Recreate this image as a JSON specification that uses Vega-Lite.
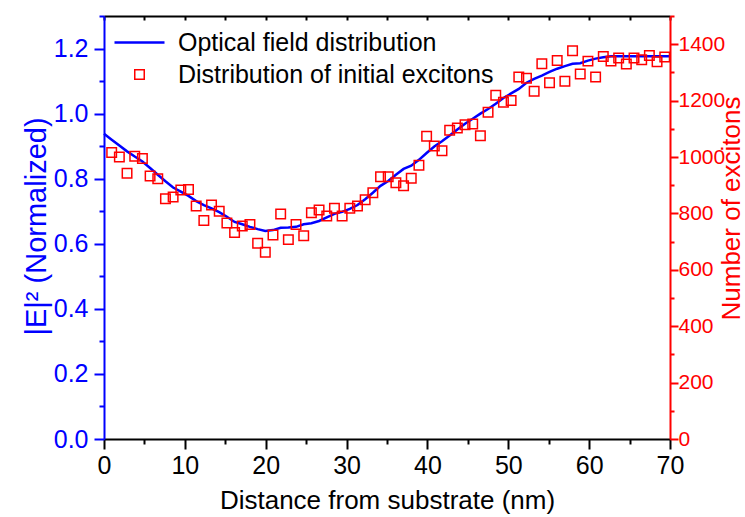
{
  "$schema": "https://vega.github.io/schema/vega-lite/v6.json",
  "width": 566,
  "height": 423,
  "autosize": "none",
  "padding": {"left": 104, "top": 16, "right": 75, "bottom": 78},
  "background": "white",
  "config": {
    "font": "Liberation Sans",
    "view": {"stroke": null},
    "axis": {"grid": false, "labelFont": "Liberation Sans", "titleFont": "Liberation Sans", "titleFontWeight": "normal", "labelOverlap": false, "labelFlush": false, "domainWidth": 2, "tickWidth": 2, "labelFontSize": 25, "titleFontSize": 28},
    "legend": {"labelFont": "Liberation Sans"}
  },
  "datasets": {
    "field": [
      {"x": 0, "E": 0.938}, {"x": 0.95, "E": 0.920}, {"x": 1.9, "E": 0.902}, {"x": 2.85, "E": 0.884}, {"x": 3.8, "E": 0.868},
      {"x": 4.75, "E": 0.853}, {"x": 5.7, "E": 0.833}, {"x": 6.65, "E": 0.812}, {"x": 7.6, "E": 0.792}, {"x": 8.55, "E": 0.773},
      {"x": 9.5, "E": 0.760}, {"x": 10.45, "E": 0.747}, {"x": 11.4, "E": 0.731}, {"x": 12.35, "E": 0.719}, {"x": 13.3, "E": 0.709},
      {"x": 14.25, "E": 0.697}, {"x": 15.2, "E": 0.683}, {"x": 16.15, "E": 0.667}, {"x": 17.1, "E": 0.660}, {"x": 18.05, "E": 0.652},
      {"x": 19, "E": 0.645}, {"x": 19.95, "E": 0.639}, {"x": 20.9, "E": 0.642}, {"x": 21.85, "E": 0.649}, {"x": 22.8, "E": 0.650},
      {"x": 23.75, "E": 0.652}, {"x": 24.7, "E": 0.660}, {"x": 25.65, "E": 0.663}, {"x": 26.6, "E": 0.670}, {"x": 27.55, "E": 0.681},
      {"x": 28.5, "E": 0.692}, {"x": 29.45, "E": 0.698}, {"x": 30.4, "E": 0.707}, {"x": 31.35, "E": 0.719}, {"x": 32.3, "E": 0.737},
      {"x": 33.25, "E": 0.757}, {"x": 34.2, "E": 0.778}, {"x": 35.15, "E": 0.793}, {"x": 36.1, "E": 0.812}, {"x": 37.05, "E": 0.830},
      {"x": 38, "E": 0.840}, {"x": 38.95, "E": 0.858}, {"x": 39.9, "E": 0.879}, {"x": 40.85, "E": 0.899}, {"x": 41.8, "E": 0.915},
      {"x": 42.75, "E": 0.933}, {"x": 43.7, "E": 0.951}, {"x": 44.65, "E": 0.969}, {"x": 45.6, "E": 0.984}, {"x": 46.55, "E": 1.000},
      {"x": 47.5, "E": 1.014}, {"x": 48.45, "E": 1.030}, {"x": 49.4, "E": 1.048}, {"x": 50.35, "E": 1.062}, {"x": 51.3, "E": 1.076},
      {"x": 52.25, "E": 1.095}, {"x": 53.2, "E": 1.107}, {"x": 54.15, "E": 1.117}, {"x": 55.1, "E": 1.128}, {"x": 56.05, "E": 1.138},
      {"x": 57, "E": 1.146}, {"x": 57.95, "E": 1.153}, {"x": 58.9, "E": 1.155}, {"x": 59.85, "E": 1.163}, {"x": 60.8, "E": 1.169},
      {"x": 61.75, "E": 1.173}, {"x": 62.7, "E": 1.176}, {"x": 65, "E": 1.176}, {"x": 70, "E": 1.176}
    ],
    "excitons": [
      {"x": 0.95, "N": 1016}, {"x": 1.9, "N": 1000}, {"x": 2.85, "N": 942}, {"x": 3.8, "N": 1003}, {"x": 4.75, "N": 995},
      {"x": 5.7, "N": 933}, {"x": 6.65, "N": 923}, {"x": 7.6, "N": 852}, {"x": 8.55, "N": 858}, {"x": 9.5, "N": 883},
      {"x": 10.45, "N": 885}, {"x": 11.4, "N": 826}, {"x": 12.35, "N": 775}, {"x": 13.3, "N": 830}, {"x": 14.25, "N": 808},
      {"x": 15.2, "N": 766}, {"x": 16.15, "N": 732}, {"x": 17.1, "N": 755}, {"x": 18.05, "N": 761}, {"x": 19, "N": 694},
      {"x": 19.95, "N": 662}, {"x": 20.9, "N": 723}, {"x": 21.85, "N": 798}, {"x": 22.8, "N": 707}, {"x": 23.75, "N": 761},
      {"x": 24.7, "N": 721}, {"x": 25.65, "N": 802}, {"x": 26.6, "N": 812}, {"x": 27.55, "N": 791}, {"x": 28.5, "N": 818},
      {"x": 29.45, "N": 791}, {"x": 30.4, "N": 818}, {"x": 31.35, "N": 826}, {"x": 32.3, "N": 848}, {"x": 33.25, "N": 873},
      {"x": 34.2, "N": 930}, {"x": 35.15, "N": 930}, {"x": 36.1, "N": 909}, {"x": 37.05, "N": 898}, {"x": 38, "N": 925},
      {"x": 38.95, "N": 971}, {"x": 39.9, "N": 1074}, {"x": 40.85, "N": 1039}, {"x": 41.8, "N": 1022}, {"x": 42.75, "N": 1095},
      {"x": 43.7, "N": 1103}, {"x": 44.65, "N": 1114}, {"x": 45.6, "N": 1117}, {"x": 46.55, "N": 1075}, {"x": 47.5, "N": 1159},
      {"x": 48.45, "N": 1219}, {"x": 49.4, "N": 1194}, {"x": 50.35, "N": 1200}, {"x": 51.3, "N": 1284}, {"x": 52.25, "N": 1279},
      {"x": 53.2, "N": 1233}, {"x": 54.15, "N": 1331}, {"x": 55.1, "N": 1263}, {"x": 56.05, "N": 1342}, {"x": 57, "N": 1269},
      {"x": 57.95, "N": 1377}, {"x": 58.9, "N": 1294}, {"x": 59.85, "N": 1340}, {"x": 60.8, "N": 1284}, {"x": 61.75, "N": 1356},
      {"x": 62.7, "N": 1340}, {"x": 63.65, "N": 1351}, {"x": 64.6, "N": 1330}, {"x": 65.55, "N": 1351}, {"x": 66.5, "N": 1345},
      {"x": 67.45, "N": 1360}, {"x": 68.4, "N": 1338}, {"x": 69.35, "N": 1355}
    ]
  },
  "layer": [
    {
      "data": {"name": "field"},
      "mark": {"type": "line", "strokeWidth": 2.5},
      "encoding": {
        "x": {
          "field": "x", "type": "quantitative",
          "scale": {"domain": [0, 70], "nice": false},
          "axis": {
            "orient": "bottom",
            "title": "Distance from substrate (nm)",
            "titleFontSize": 26,
            "titleX": 283, "titleY": 69, "titleAlign": "center", "titleBaseline": "alphabetic",
            "values": [0, 5, 10, 15, 20, 25, 30, 35, 40, 45, 50, 55, 60, 65, 70],
            "labelExpr": "datum.value % 10 == 0 ? format(datum.value, 'd') : ''",
            "tickSize": {"condition": {"test": "datum.value % 10 == 0", "value": 10}, "value": 5},
            "domainColor": "#000000", "tickColor": "#000000", "labelColor": "#000000", "titleColor": "#000000",
            "labelPadding": 4
          }
        },
        "y": {
          "field": "E", "type": "quantitative",
          "scale": {"domain": [0, 1.3], "nice": false},
          "axis": {
            "orient": "left",
            "title": "|E|² (Normalized)",
            "titleFontSize": 29,
            "titleX": -59, "titleY": 210, "titleAngle": 270, "titleAlign": "center", "titleBaseline": "alphabetic",
            "values": [0, 0.1, 0.2, 0.3, 0.4, 0.5, 0.6, 0.7, 0.8, 0.9, 1.0, 1.1, 1.2, 1.3],
            "labelExpr": "round(datum.value * 10) % 2 == 0 ? format(datum.value, '.1f') : ''",
            "tickSize": {"condition": {"test": "round(datum.value * 10) % 2 == 0", "value": 10}, "value": 5},
            "domainColor": "#0000FF", "tickColor": "#0000FF", "labelColor": "#0000FF", "titleColor": "#0000FF",
            "labelPadding": 6
          }
        },
        "color": {
          "datum": "Optical field distribution",
          "scale": {"domain": ["Optical field distribution", "Distribution of initial excitons"], "range": ["#0000FF", "#FF0000"]},
          "legend": {
            "title": null,
            "orient": "none",
            "legendX": 23,
            "legendY": 14,
            "padding": 0,
            "labelFontSize": 25,
            "labelLimit": 500,
            "labelColor": "#000000",
            "labelOffset": 26,
            "symbolSize": 2500,
            "rowPadding": 6,
            "encode": {
              "symbols": {
                "update": {
                  "shape": {"signal": "datum.value === 'Optical field distribution' ? 'stroke' : 'square'"},
                  "size": {"signal": "datum.value === 'Optical field distribution' ? 2500 : 90"},
                  "strokeWidth": {"signal": "datum.value === 'Optical field distribution' ? 2.5 : 1.5"},
                  "fill": {"value": "transparent"}
                }
              }
            }
          }
        }
      }
    },
    {
      "data": {"name": "excitons"},
      "mark": {"type": "point", "shape": "square", "size": 90, "strokeWidth": 1.5, "filled": false, "opacity": 1},
      "encoding": {
        "x": {
          "field": "x", "type": "quantitative",
          "axis": {
            "orient": "top", "title": null, "labels": false,
            "values": [0, 5, 10, 15, 20, 25, 30, 35, 40, 45, 50, 55, 60, 65, 70],
            "tickSize": -4, "domainColor": "#000000", "tickColor": "#000000"
          }
        },
        "y": {
          "field": "N", "type": "quantitative",
          "scale": {"domain": [0, 1500], "nice": false},
          "axis": {
            "orient": "right",
            "title": "Number of excitons",
            "titleFontSize": 26,
            "titleX": 74.5, "titleY": 192, "titleAngle": 270, "titleAlign": "center", "titleBaseline": "bottom",
            "values": [0, 100, 200, 300, 400, 500, 600, 700, 800, 900, 1000, 1100, 1200, 1300, 1400, 1500],
            "labelExpr": "datum.value % 200 == 0 ? format(datum.value, 'd') : ''",
            "labelFontSize": 21,
            "tickSize": {"condition": {"test": "datum.value % 200 == 0", "value": 8}, "value": 4},
            "domainColor": "#FF0000", "tickColor": "#FF0000", "labelColor": "#FF0000", "titleColor": "#FF0000",
            "labelPadding": 0
          }
        },
        "color": {"datum": "Distribution of initial excitons"}
      }
    }
  ],
  "resolve": {"scale": {"y": "independent"}, "axis": {"x": "independent", "y": "independent"}}
}
